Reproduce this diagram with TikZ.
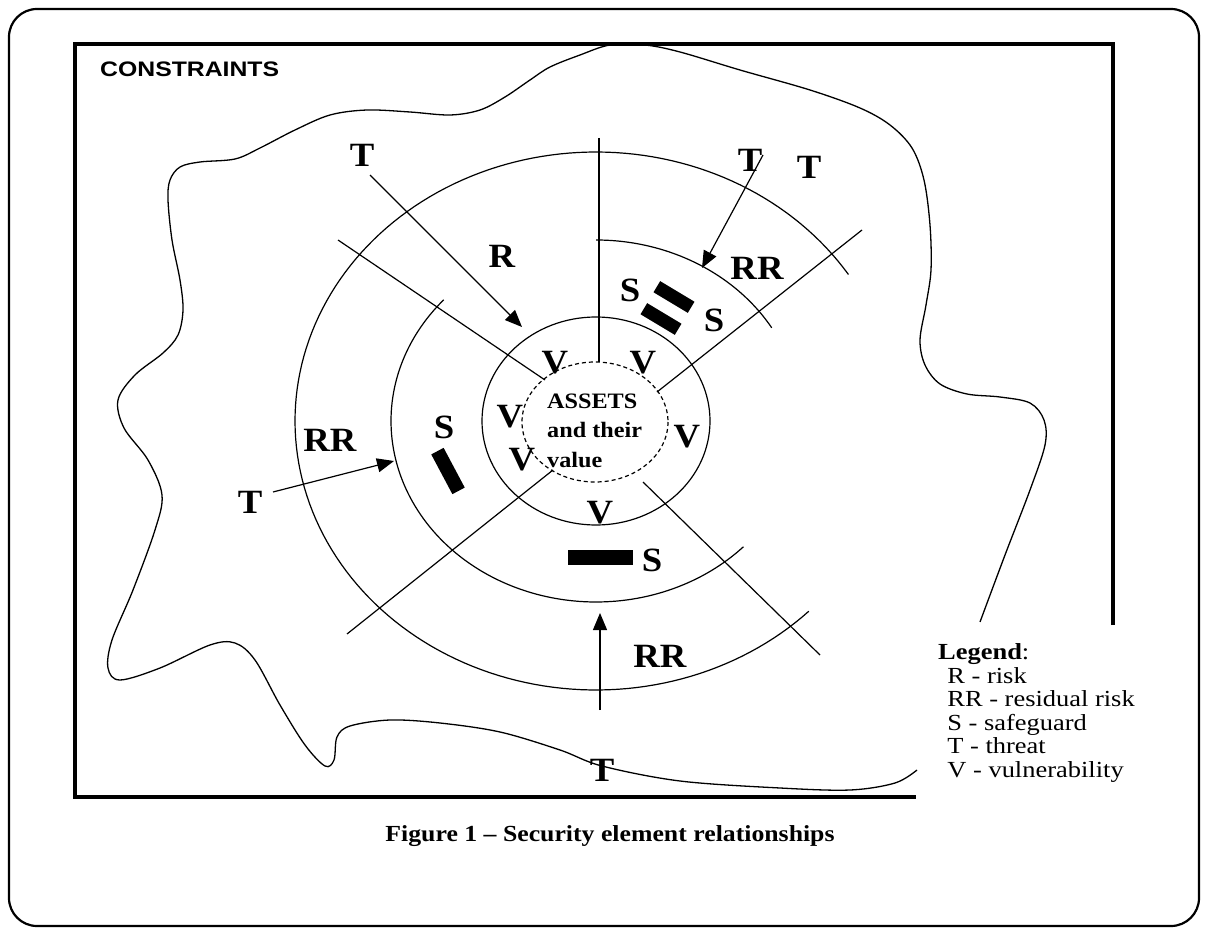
\documentclass[tikz,border=0pt]{standalone}
\usepackage{fontspec}
\usepackage{graphicx}
\setmainfont{Liberation Serif}
\setsansfont{Liberation Sans}
\usetikzlibrary{arrows.meta}
\newcommand\BL[1]{\scalebox{1.08}[1]{#1}}
\begin{document}
\begin{tikzpicture}[x=1pt,y=-1pt,
  ringline/.style={line width=1.2pt},
  blobline/.style={line width=1.3pt},
  radial/.style={line width=1.2pt},
  threatarrow/.style={line width=1.2pt,-{Triangle[length=17pt,width=14pt]}},
  biglabel/.style={inner sep=0pt,font=\fontsize{34}{34}\selectfont\bfseries},
  safeblock/.style={fill=black,draw=none,inner sep=0pt,minimum width=40pt,minimum height=13pt}]
\useasboundingbox (0,0) rectangle (1208,936);
% frames
\draw[line width=2.2pt,rounded corners=28pt] (9,9) rectangle (1199,926);
\draw[line width=3.2pt] (1113,625) -- (1113,44) -- (75,44) -- (75,797) -- (916,797);
\node[anchor=west,inner sep=0pt,font=\fontsize{21}{21}\selectfont\sffamily\bfseries] (constraints) at (100,69) {\scalebox{1.18}[1]{CONSTRAINTS}};
% blob of constraints
\draw[blobline] plot[smooth,tension=0.55] coordinates {
 (980,622) (1005,555) (1030,490) (1045,445) (1044,420) (1030,403) (1000,397) (967,394)
 (940,384) (925,365) (920,340) (926,305) (931,270) (930,225) (924,180) (912,148) (890,125)
 (860,108) (810,90) (740,70) (680,52) (645,45) (610,45) (580,55) (550,67) (530,80) (505,97)
 (480,110) (450,115) (410,112) (367,110) (330,115) (295,130) (260,148) (235,159) (200,162)
 (180,167) (170,180) (168,200) (172,240) (180,280) (183,310) (178,335) (163,353) (135,375)
 (118,400) (124,428) (148,460) (162,495) (155,530) (133,590) (112,640) (108,668) (120,680)
 (160,668) (210,645) (235,643) (255,660) (280,705) (305,745) (325,766) (334,760) (337,737)
 (350,726) (390,720) (440,723) (500,732) (560,750) (602,766) (680,781) (780,788) (850,790)
 (895,783) (917,770)};
% rings
\draw[ringline] plot[domain=-33:-315,samples=160] ({596+301*cos(\x)},{421+269*sin(\x)});
\draw[ringline] plot[domain=222:44,samples=120] ({596+205*cos(\x)},{421+181*sin(\x)});
\draw[ringline] plot[domain=-90:-31,samples=60] ({596+205*cos(\x)},{421+181*sin(\x)});
\draw[ringline] (596,421) ellipse [x radius=114,y radius=104];
\draw[ringline,dash pattern=on 4pt off 3pt] (595,422) ellipse [x radius=73,y radius=60];
% radial lines
\coordinate (nA) at (599,138); \coordinate (nB) at (599,362);
\coordinate (nwA) at (338,240); \coordinate (nwB) at (545,380);
\coordinate (neA) at (862,230); \coordinate (neB) at (657,392);
\coordinate (swA) at (347,634); \coordinate (swB) at (553,470);
\coordinate (seA) at (643,482); \coordinate (seB) at (820,655);
\draw[radial] (nA) -- (nB);
\draw[radial] (nwA) -- (nwB);
\draw[radial] (neA) -- (neB);
\draw[radial] (swA) -- (swB);
\draw[radial] (seA) -- (seB);
% threats and arrows
\node[biglabel] (tTL) at (362,155) {\BL{T}};
\coordinate (aTLs) at (370,175); \coordinate (aTLe) at (522,327);
\draw[threatarrow] (aTLs) -- (aTLe);
\node[biglabel] (rTL) at (502,256) {\BL{R}};
\node[biglabel] (tNE1) at (750,160) {\BL{T}};
\node[biglabel] (tNE2) at (809,167) {\BL{T}};
\coordinate (aNEs) at (763,155); \coordinate (aNEe) at (702,268);
\draw[threatarrow] (aNEs) -- (aNEe);
\node[biglabel] (rrNE) at (757,268) {\BL{RR}};
\node[biglabel] (tL) at (250,502) {\BL{T}};
\coordinate (aLs) at (273,492); \coordinate (aLe) at (394,461);
\draw[threatarrow] (aLs) -- (aLe);
\node[biglabel] (rrL) at (330,440) {\BL{RR}};
\node[biglabel] (tB) at (602,770) {\BL{T}};
\coordinate (aBs) at (600,710); \coordinate (aBe) at (600,613);
\draw[threatarrow] (aBs) -- (aBe);
\node[biglabel] (rrB) at (660,656) {\BL{RR}};
% safeguards
\node[biglabel] (sNE1) at (630,290) {\BL{S}};
\node[biglabel] (sNE2) at (714,320) {\BL{S}};
\node[safeblock,rotate=-31] (bNE1) at (674,297) {};
\node[safeblock,rotate=-31] (bNE2) at (661,319) {};
\node[biglabel] (sL) at (444,427) {\BL{S}};
\node[safeblock,minimum width=45pt,minimum height=14pt,rotate=-62] (bL) at (448,471) {};
\node[safeblock,minimum width=65pt,minimum height=15pt] (bB) at (600,557) {};
\node[biglabel] (sB) at (652,560) {\BL{S}};
% vulnerabilities
\node[biglabel] (v1) at (555,363) {\BL{V}};
\node[biglabel] (v2) at (643,363) {\BL{V}};
\node[biglabel] (v3) at (510,417) {\BL{V}};
\node[biglabel] (v4) at (522,460) {\BL{V}};
\node[biglabel] (v5) at (687,437) {\BL{V}};
\node[biglabel] (v6) at (600,513) {\BL{V}};
% assets
\node[anchor=west,inner sep=0pt,font=\fontsize{22}{29.5}\selectfont\bfseries] (assets) at (547,432)
 {\scalebox{1.1}[1]{\begin{tabular}{@{}l@{}}ASSETS\\and their\\value\end{tabular}}};
% legend
\node[anchor=north west,inner sep=0pt,font=\fontsize{23}{23.5}\selectfont] (legend) at (938,643)
 {\scalebox{1.15}[1]{\begin{tabular}{@{}l@{}}\textbf{Legend}:\\
 \hspace{8pt}R - risk\\ \hspace{8pt}RR - residual risk\\ \hspace{8pt}S - safeguard\\
 \hspace{8pt}T - threat\\ \hspace{8pt}V - vulnerability\end{tabular}}};
% caption
\node[anchor=base,inner sep=0pt,font=\fontsize{23}{23}\selectfont\bfseries] (caption) at (610,841)
 {\scalebox{1.12}[1]{Figure 1 – Security element relationships}};
\end{tikzpicture}
\end{document}
